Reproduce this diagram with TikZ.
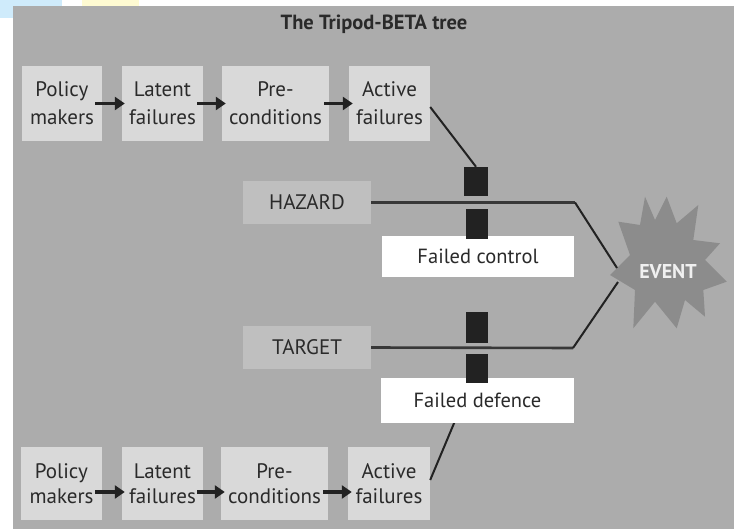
\documentclass[tikz,border=0pt]{standalone}
\usepackage{fontspec}
\setmainfont{PT Sans}
\usetikzlibrary{arrows.meta}
\definecolor{bg}{HTML}{ACACAC}
\definecolor{boxc}{HTML}{D9D9D9}
\definecolor{hzc}{HTML}{BFBFBF}
\definecolor{txt}{HTML}{2A2A2A}
\definecolor{blk}{HTML}{222222}
\definecolor{starc}{HTML}{8C8C8C}
\definecolor{skyc}{HTML}{CFEBFB}
\definecolor{yelc}{HTML}{FFFBD2}
\tikzset{
  rowbox/.style={fill=boxc, inner sep=0pt, align=center, text=txt,
    font=\fontsize{21}{28}\selectfont},
  lowbox/.style={rowbox, font=\fontsize{21}{25}\selectfont},
  hzbox/.style={fill=hzc, inner sep=0pt, text=txt, minimum width=128pt, minimum height=43pt,
    font=\fontsize{21}{24}\selectfont},
  whbox/.style={fill=white, inner sep=0pt, text=txt, font=\fontsize{20.5}{24}\selectfont},
  blkbox/.style={fill=blk, inner sep=0pt, minimum width=22pt},
  flow/.style={draw=blk, line width=3.4pt, -{Triangle[length=10pt,width=13pt]}},
  conn/.style={draw=blk, line width=2pt},
  hline/.style={draw=black!78, line width=2.6pt},
}
\begin{document}
\begin{tikzpicture}[x=1pt,y=-1pt]
\useasboundingbox (0,0) rectangle (735,529);
% background artefacts
\fill[white] (0,0) rectangle (735,529);
\fill[skyc] (0,0) rectangle (62,6);
\fill[skyc] (0,0) rectangle (13,18);
\fill[yelc] (82,0) rectangle (139,6);
\fill[bg] (13,6) rectangle (734,529);
% title
\node[font=\fontsize{20.5}{24}\selectfont\bfseries, text=txt] (title) at (374,24) {The Tripod-BETA tree};
% top row
\node[rowbox, minimum width=80pt, minimum height=75pt] (p1) at (62,103.5) {Policy\\makers};
\node[rowbox, minimum width=81pt, minimum height=75pt] (l1) at (162.5,103.5) {Latent\\failures};
\node[rowbox, minimum width=107pt, minimum height=75pt] (c1) at (275.5,103.5) {Pre-\\conditions};
\node[rowbox, minimum width=81pt, minimum height=75pt] (a1) at (389.5,103.5) {Active\\failures};
% bottom row
\node[lowbox, minimum width=81pt, minimum height=73pt] (p2) at (61.5,483.5) {Policy\\makers};
\node[lowbox, minimum width=81pt, minimum height=73pt] (l2) at (162.5,483.5) {Latent\\failures};
\node[lowbox, minimum width=107pt, minimum height=73pt] (c2) at (274.5,483.5) {Pre-\\conditions};
\node[lowbox, minimum width=82pt, minimum height=73pt] (a2) at (389,483.5) {Active\\failures};
% flow arrows
\draw[flow] ([xshift=-7pt]p1.east) -- ([xshift=3pt]l1.west);
\draw[flow] ([xshift=-6pt]l1.east) -- ([xshift=4pt]c1.west);
\draw[flow] ([xshift=-5pt]c1.east) -- ([xshift=4pt]a1.west);
\draw[flow] ([xshift=-7pt,yshift=-8.5pt]p2.east) -- ([xshift=3pt,yshift=-8.5pt]l2.west);
\draw[flow] ([xshift=-6pt,yshift=-8.5pt]l2.east) -- ([xshift=4pt,yshift=-8.5pt]c2.west);
\draw[flow] ([xshift=-5pt,yshift=-8.5pt]c2.east) -- ([xshift=4pt,yshift=-8.5pt]a2.west);
% hazard / target
\node[hzbox] (hazard) at (307,202.5) {HAZARD};
\node[hzbox] (target) at (307,347.5) {TARGET};
% event star
\fill[starc] (610,275) -- (630,255) -- (618.3,221.7) -- (640,225) -- (645,196.7) -- (655,220)
  -- (666.7,196.7) -- (676.7,223.3) -- (698.3,205) -- (693.3,240) -- (720,243.3) -- (705,260)
  -- (726.7,281.7) -- (703.3,290) -- (705,316.7) -- (685,300) -- (676.7,328.3) -- (655,301.7)
  -- (633.3,328.3) -- (635,290) -- cycle;
\node[text=white!94!black, font=\fontsize{20}{22}\selectfont\bfseries] (ev) at (668,271) {EVENT};
% connector points
\coordinate (hk) at (575,202.5);
\coordinate (evA) at (617,268);
\coordinate (tk) at (573,348);
\coordinate (evB) at (618,282);
% blocks (positions)
\path (476,181.5) node[blkbox, minimum width=24pt, minimum height=29pt] (b1) {};
\path (477,224) coordinate (b2c);
\path (477,368.5) coordinate (b4c);
% lines
\draw[hline] (hazard.east) -- (hk);
\draw[conn] (hk) -- (evA);
\draw[hline] (target.east) -- (tk);
\draw[conn] (tk) -- (evB);
\draw[conn] ([yshift=-3.5pt]a1.east) -- (b1.north);
\draw[conn] ([yshift=3.5pt]a2.east) -- (b4c);
% white boxes
\node[whbox, minimum width=192pt, minimum height=41pt] (fc) at (478,256.5) {Failed control};
\node[whbox, minimum width=193pt, minimum height=45pt] (fd) at (477.5,400.5) {Failed defence};
% barriers
\node[blkbox, minimum height=30pt] (b2) at (b2c) {};
\node[blkbox, minimum height=31pt] (b3) at (477,327.5) {};
\node[blkbox, minimum height=29pt] (b4) at (b4c) {};
\end{tikzpicture}
\end{document}
